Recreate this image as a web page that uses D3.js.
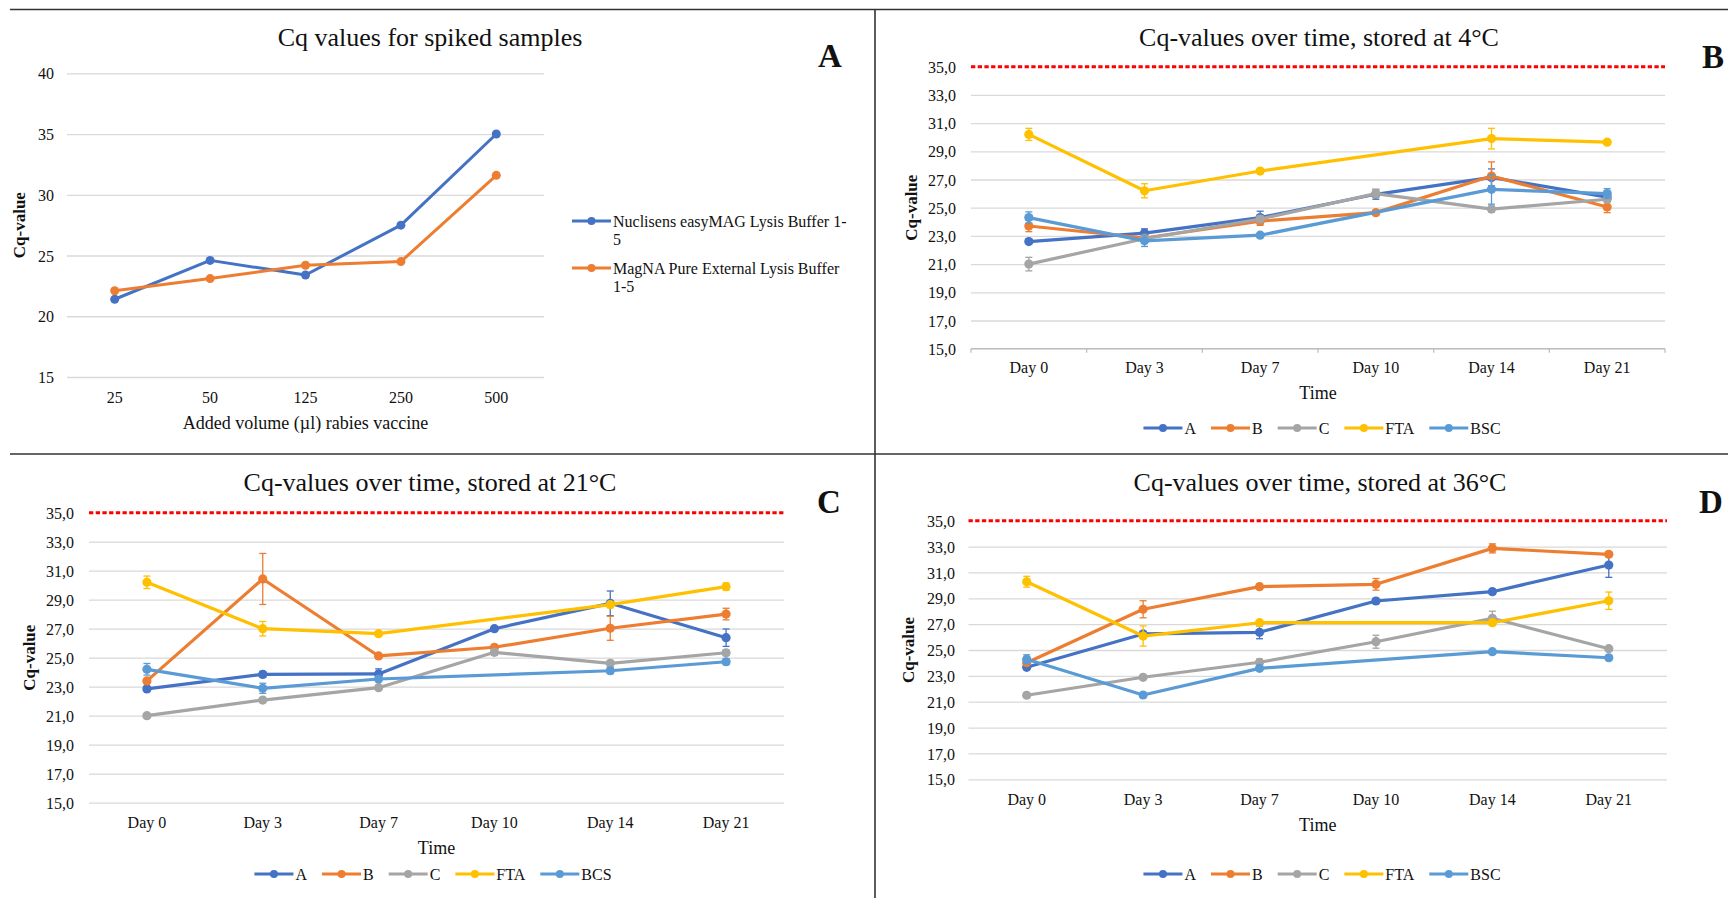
<!DOCTYPE html>
<html>
<head>
<meta charset="utf-8">
<title>Cq values</title>
<script src="https://cdn.jsdelivr.net/npm/d3@7"></script>
<style>
  body { margin: 0; background: #fff; }
  svg { display: block; }
  text { font-family: "Liberation Serif", "Times New Roman", serif; fill: #111; }
  .grid line { stroke: #d9d9d9; stroke-width: 1.3; }
  .grid .domain { display: none; }
  .cat .domain, .cat line { display: none; }
  .divider { stroke: #333; stroke-width: 1.6; }
</style>
</head>
<body>
<script>
// ---- data ----
var volumes = ["25", "50", "125", "250", "500"];
var spikedTicks = [15, 20, 25, 30, 35, 40];
var nuclisens = [21.4, 24.6, 23.4, 27.5, 35.0];
var magna = [22.1, 23.1, 24.2, 24.5, 31.6];

var days = ["Day 0", "Day 3", "Day 7", "Day 10", "Day 14", "Day 21"];
var timeTicks = [15, 17, 19, 21, 23, 25, 27, 29, 31, 33, 35];
var threshold = 35;

// stored at 4°C
var t4A = [22.6, 23.2, 24.3, 25.95, 27.15, 25.75];
var t4B = [23.7, 22.85, 24.05, 24.65, 27.25, 25.05];
var t4C = [21.0, 22.8, 24.2, 26.0, 24.9, 25.6];
var t4FTA = [30.2, 26.2, 27.6, null, 29.9, 29.65];
var t4BSC = [24.3, 22.65, 23.05, null, 26.3, 26.0];
var t4ErrA = [0.15, 0.3, 0.45, 0.35, 0.6, 0.2];
var t4ErrB = [0.4, 0.2, 0.3, 0.15, 1.0, 0.4];
var t4ErrC = [0.48, 0.2, 0.2, 0.3, 0.2, 0.2];
var t4ErrFTA = [0.43, 0.5, 0.15, null, 0.73, 0.15];
var t4ErrBSC = [0.4, 0.4, 0.15, null, 1.05, 0.35];

// stored at 21°C
var t21A = [22.85, 23.85, 23.88, 27.0, 28.75, 26.38];
var t21B = [23.4, 30.43, 25.12, 25.72, 27.03, 28.01];
var t21C = [21.0, 22.08, 22.93, 25.37, 24.61, 25.34];
var t21FTA = [30.2, 27.0, 26.66, null, 28.66, 29.9];
var t21BCS = [24.2, 22.89, 23.53, null, 24.1, 24.72];
var t21ErrA = [0.15, 0.2, 0.35, 0.15, 0.85, 0.6];
var t21ErrB = [0.15, 1.76, 0.15, 0.15, 0.83, 0.4];
var t21ErrC = [0.15, 0.15, 0.15, 0.2, 0.2, 0.2];
var t21ErrFTA = [0.43, 0.5, 0.15, null, 0.2, 0.25];
var t21ErrBCS = [0.4, 0.35, 0.15, null, 0.2, 0.2];

// stored at 36°C
var t36A = [23.66, 26.24, 26.37, 28.79, 29.51, 31.57];
var t36B = [24.02, 28.15, 29.9, 30.08, 32.86, 32.4];
var t36C = [21.5, 22.89, 24.05, 25.64, 27.45, 25.1];
var t36FTA = [30.28, 26.08, 27.11, null, 27.11, 28.81];
var t36BSC = [24.28, 21.52, 23.58, null, 24.87, 24.4];
var t36ErrA = [0.15, 0.2, 0.5, 0.2, 0.2, 0.95];
var t36ErrB = [0.15, 0.66, 0.2, 0.45, 0.35, 0.2];
var t36ErrC = [0.15, 0.15, 0.25, 0.5, 0.55, 0.15];
var t36ErrFTA = [0.42, 0.78, 0.15, null, 0.15, 0.67];
var t36ErrBSC = [0.35, 0.15, 0.15, null, 0.15, 0.15];

var colors = { A: "#4472C4", B: "#ED7D31", C: "#A5A5A5", FTA: "#FFC000", BSC: "#5B9BD5" };

(function () {
    var width = 1728, height = 898;
    var svg = d3.select('body').append('svg').attr('width', width).attr('height', height);
    var fmtComma = function (v) { return d3.format('.1f')(v).replace('.', ','); };

    // panel dividers
    svg.append('line').attr('class', 'divider').attr('x1', 10).attr('x2', width).attr('y1', 9.5).attr('y2', 9.5);
    svg.append('line').attr('class', 'divider').attr('x1', 10).attr('x2', width).attr('y1', 454).attr('y2', 454);
    svg.append('line').attr('class', 'divider').attr('x1', 875).attr('x2', 875).attr('y1', 9.5).attr('y2', height);

    var drawPoints = function (g, x, y, pts, color, lw, r) {
        g.append('path').datum(pts)
            .attr('fill', 'none').attr('stroke', color).attr('stroke-width', lw)
            .attr('stroke-linejoin', 'round')
            .attr('d', d3.line().x(p => x(p.k) + x.bandwidth() / 2).y(p => y(p.v)));
        var eb = g.append('g').attr('stroke', color).attr('stroke-width', 1.3);
        pts.filter(p => p.e).forEach(function (p) {
            var cx = x(p.k) + x.bandwidth() / 2;
            eb.append('line').attr('x1', cx).attr('x2', cx).attr('y1', y(p.v - p.e)).attr('y2', y(p.v + p.e));
            eb.append('line').attr('x1', cx - 3.5).attr('x2', cx + 3.5).attr('y1', y(p.v - p.e)).attr('y2', y(p.v - p.e));
            eb.append('line').attr('x1', cx - 3.5).attr('x2', cx + 3.5).attr('y1', y(p.v + p.e)).attr('y2', y(p.v + p.e));
        });
        g.append('g').selectAll('circle').data(pts).enter().append('circle')
            .attr('cx', p => x(p.k) + x.bandwidth() / 2).attr('cy', p => y(p.v))
            .attr('r', r).attr('fill', color);
    };

    // ---------- Panel A ----------
    (function () {
        var left = 67, right = 544, top = 73.3, bottom = 377;
        var g = svg.append('g');
        var x = d3.scaleBand().domain(volumes).range([left, right]);
        var y = d3.scaleLinear().domain([15, 40]).range([bottom, top]);

        g.append('g').attr('class', 'grid').attr('transform', 'translate(' + left + ',0)')
            .call(d3.axisLeft(y).tickValues(spikedTicks).tickSize(-(right - left)).tickPadding(13))
            .selectAll('text').attr('font-size', 16).attr('dy', '0.35em');
        g.append('g').attr('class', 'cat').attr('transform', 'translate(0,' + bottom + ')')
            .call(d3.axisBottom(x).tickSize(0))
            .selectAll('text').attr('font-size', 16).attr('y', 20).attr('dy', '0.35em');

        var s1 = volumes.map((k, i) => ({ k: k, v: nuclisens[i] }));
        var s2 = volumes.map((k, i) => ({ k: k, v: magna[i] }));
        drawPoints(g, x, y, s1, colors.A, 3, 4.5);
        drawPoints(g, x, y, s2, colors.B, 3, 4.5);

        g.append('text').attr('x', 430).attr('y', 37).attr('dy', '0.35em').attr('text-anchor', 'middle')
            .attr('font-size', 26).text('Cq values for spiked samples');
        g.append('text').attr('x', 830).attr('y', 55).attr('dy', '0.35em').attr('text-anchor', 'middle')
            .attr('font-size', 33).attr('font-weight', 'bold').text('A');
        g.append('text').attr('x', (left + right) / 2).attr('y', bottom + 46).attr('dy', '0.35em')
            .attr('text-anchor', 'middle').attr('font-size', 18).text('Added volume (µl) rabies vaccine');
        g.append('text').attr('transform', 'translate(' + (left - 48) + ',' + ((top + bottom) / 2) + ') rotate(-90)')
            .attr('dy', '0.35em').attr('text-anchor', 'middle').attr('font-size', 17).attr('font-weight', 'bold')
            .text('Cq-value');

        // legend
        var leg = [
            { c: colors.A, lines: ['Nuclisens easyMAG Lysis Buffer 1-', '5'], y: 221 },
            { c: colors.B, lines: ['MagNA Pure External Lysis Buffer', '1-5'], y: 268 }
        ];
        leg.forEach(function (d) {
            g.append('line').attr('x1', 572).attr('x2', 611).attr('y1', d.y).attr('y2', d.y)
                .attr('stroke', d.c).attr('stroke-width', 3);
            g.append('circle').attr('cx', 591.5).attr('cy', d.y).attr('r', 4).attr('fill', d.c);
            var t = g.append('text').attr('x', 613).attr('y', d.y).attr('dy', '0.35em').attr('font-size', 16);
            d.lines.forEach(function (ln, i) {
                t.append('tspan').attr('x', 613).attr('dy', i === 0 ? '0.35em' : 18).text(ln);
            });
        });
    })();

    // ---------- Time panels ----------
    var drawTimePanel = function (cfg) {
        var g = svg.append('g');
        var x = d3.scaleBand().domain(days).range([cfg.left, cfg.right]);
        var y = d3.scaleLinear().domain([15, 35]).range([cfg.bottom, cfg.top]);
        var w = cfg.right - cfg.left;

        g.append('g').attr('class', 'grid').attr('transform', 'translate(' + cfg.left + ',0)')
            .call(d3.axisLeft(y).tickValues(timeTicks).tickSize(-w).tickPadding(cfg.pad).tickFormat(fmtComma))
            .selectAll('text').attr('font-size', 16).attr('dy', '0.35em');
        // remove the gridline under threshold
        g.selectAll('.grid .tick').filter(d => d === threshold).select('line').remove();

        if (cfg.axisTicks) {
            var ax = g.append('g').attr('stroke', '#bfbfbf').attr('stroke-width', 1.3);
            ax.append('line').attr('x1', cfg.left).attr('x2', cfg.right).attr('y1', cfg.bottom).attr('y2', cfg.bottom);
            days.concat([null]).forEach(function (d) {
                var xx = d === null ? cfg.right : x(d);
                ax.append('line').attr('x1', xx).attr('x2', xx).attr('y1', cfg.bottom).attr('y2', cfg.bottom + 4);
            });
        }
        g.append('g').attr('class', 'cat').attr('transform', 'translate(0,' + cfg.bottom + ')')
            .call(d3.axisBottom(x).tickSize(0))
            .selectAll('text').attr('font-size', 16).attr('y', cfg.catOff).attr('dy', '0.35em');

        // threshold line
        g.append('line').attr('x1', cfg.left).attr('x2', cfg.right)
            .attr('y1', y(threshold)).attr('y2', y(threshold))
            .attr('stroke', '#ff0000').attr('stroke-width', 3).attr('stroke-dasharray', '4.3 2.4');

        cfg.series.forEach(function (s) {
            var pts = days.map((k, i) => ({ k: k, v: s.values[i], e: s.err[i] })).filter(p => p.v != null);
            drawPoints(g, x, y, pts, s.color, 3.2, 4.6);
        });

        g.append('text').attr('x', cfg.titleX).attr('y', cfg.titleY).attr('dy', '0.35em').attr('text-anchor', 'middle')
            .attr('font-size', 26).text(cfg.title);
        g.append('text').attr('x', cfg.letterX).attr('y', cfg.titleY + 19).attr('dy', '0.35em').attr('text-anchor', 'middle')
            .attr('font-size', 33).attr('font-weight', 'bold').text(cfg.letter);
        g.append('text').attr('x', (cfg.left + cfg.right) / 2).attr('y', cfg.bottom + cfg.timeOff).attr('dy', '0.35em')
            .attr('text-anchor', 'middle').attr('font-size', 18).text('Time');
        g.append('text').attr('transform', 'translate(' + (cfg.left - 60) + ',' + ((cfg.top + cfg.bottom) / 2) + ') rotate(-90)')
            .attr('dy', '0.35em').attr('text-anchor', 'middle').attr('font-size', 17).attr('font-weight', 'bold')
            .text('Cq-value');

        // legend
        var leg = g.append('g');
        var xx = 0;
        cfg.series.forEach(function (s, i) {
            var it = leg.append('g').attr('transform', 'translate(' + xx + ',0)');
            it.append('line').attr('x1', 0).attr('x2', 39).attr('y1', 0).attr('y2', 0)
                .attr('stroke', s.color).attr('stroke-width', 3);
            it.append('circle').attr('cx', 19.5).attr('cy', 0).attr('r', 4).attr('fill', s.color);
            var t = it.append('text').attr('x', 41).attr('dy', '0.35em').attr('font-size', 16).text(s.name);
            xx += 41 + t.node().getComputedTextLength() + 15;
        });
        var total = xx - 15;
        leg.attr('transform', 'translate(' + (cfg.legendCX - total / 2) + ',' + cfg.legendY + ')');
    };

    drawTimePanel({
        left: 971, right: 1665, top: 66.7, bottom: 348.7, pad: 15, catOff: 19, timeOff: 44,
        axisTicks: true, title: 'Cq-values over time, stored at 4°C', titleX: 1319, titleY: 37,
        letter: 'B', letterX: 1713, legendCX: 1322, legendY: 428,
        series: [
            { name: 'A', color: colors.A, values: t4A, err: t4ErrA },
            { name: 'B', color: colors.B, values: t4B, err: t4ErrB },
            { name: 'C', color: colors.C, values: t4C, err: t4ErrC },
            { name: 'FTA', color: colors.FTA, values: t4FTA, err: t4ErrFTA },
            { name: 'BSC', color: colors.BSC, values: t4BSC, err: t4ErrBSC }
        ]
    });

    drawTimePanel({
        left: 89, right: 784, top: 512.7, bottom: 802.7, pad: 15, catOff: 20, timeOff: 45,
        axisTicks: false, title: 'Cq-values over time, stored at 21°C', titleX: 430, titleY: 482,
        letter: 'C', letterX: 829, legendCX: 433, legendY: 874,
        series: [
            { name: 'A', color: colors.A, values: t21A, err: t21ErrA },
            { name: 'B', color: colors.B, values: t21B, err: t21ErrB },
            { name: 'C', color: colors.C, values: t21C, err: t21ErrC },
            { name: 'FTA', color: colors.FTA, values: t21FTA, err: t21ErrFTA },
            { name: 'BCS', color: colors.BSC, values: t21BCS, err: t21ErrBCS }
        ]
    });

    drawTimePanel({
        left: 968.5, right: 1667, top: 520.7, bottom: 779.3, pad: 13.5, catOff: 20, timeOff: 45,
        axisTicks: false, title: 'Cq-values over time, stored at 36°C', titleX: 1320, titleY: 482,
        letter: 'D', letterX: 1711, legendCX: 1322, legendY: 874,
        series: [
            { name: 'A', color: colors.A, values: t36A, err: t36ErrA },
            { name: 'B', color: colors.B, values: t36B, err: t36ErrB },
            { name: 'C', color: colors.C, values: t36C, err: t36ErrC },
            { name: 'FTA', color: colors.FTA, values: t36FTA, err: t36ErrFTA },
            { name: 'BSC', color: colors.BSC, values: t36BSC, err: t36ErrBSC }
        ]
    });
})();
</script>
</body>
</html>
